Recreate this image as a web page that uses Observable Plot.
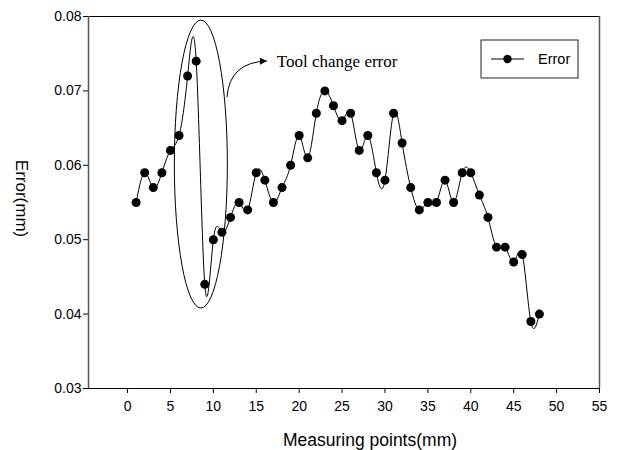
<!DOCTYPE html>
<html>
<head>
<meta charset="utf-8">
<script src="https://cdn.jsdelivr.net/npm/d3@7"></script>
<script src="https://cdn.jsdelivr.net/npm/@observablehq/plot@0.6"></script>
<style>
  html, body { margin: 0; padding: 0; background: white; }
</style>
</head>
<body>
<div id="chart"></div>
<script>
// ---- Data ----
const points = [1,2,3,4,5,6,7,8,9,10,11,12,13,14,15,16,17,18,19,20,21,22,23,24,25,26,27,28,29,30,31,32,33,34,35,36,37,38,39,40,41,42,43,44,45,46,47,48];
const errors = [0.055,0.059,0.057,0.059,0.062,0.064,0.072,0.074,0.044,0.050,0.051,0.053,0.055,0.054,0.059,0.058,0.055,0.057,0.060,0.064,0.061,0.067,0.070,0.068,0.066,0.067,0.062,0.064,0.059,0.058,0.067,0.063,0.057,0.054,0.055,0.055,0.058,0.055,0.059,0.059,0.056,0.053,0.049,0.049,0.047,0.048,0.039,0.040];
const xTicks = [0,5,10,15,20,25,30,35,40,45,50,55];
const yTicks = [0.03,0.04,0.05,0.06,0.07,0.08];
const seriesName = "Error";
const annotationText = "Tool change error";

const data = points.map((p, i) => ({x: p, y: errors[i]}));

const xDomain = [-4.55, 55];
const yDomain = [0.03, 0.08];

// annotation geometry (data units)
const ellipse = {cx: 8.6, cy: 0.0601, rx: 3.09, ry: 0.01935};
const arrowPath = {x1: 11.65, y1: 0.0691, cx: 11.95, cy: 0.0738, x2: 16.3, y2: 0.07395};
const labelPos = {x: 17.4, y: 0.0739};

const sans = "'Liberation Sans', Arial, Helvetica, sans-serif";
const serif = "'Liberation Serif', 'Times New Roman', serif";

const plot = Plot.plot({
  width: 622,
  height: 450,
  marginTop: 16,
  marginLeft: 88,
  marginRight: 23,
  marginBottom: 62,
  style: {fontFamily: sans, fontSize: "14px", background: "white", color: "black", overflow: "visible"},
  x: {domain: xDomain, label: null},
  y: {domain: yDomain, label: null},
  marks: [
    Plot.axisX({ticks: xTicks, tickSize: 5, tickPadding: 8, fontSize: 14, label: null}),
    Plot.axisY({ticks: yTicks, tickSize: 5, tickPadding: 2, fontSize: 14, tickFormat: d3.format(".2f"), label: null}),
    Plot.ruleY([yDomain[0], yDomain[1]], {stroke: "black", strokeWidth: 1}),
    Plot.ruleX([xDomain[0], xDomain[1]], {stroke: "#555", strokeWidth: 1.5}),
    Plot.line(data, {x: "x", y: "y", curve: "natural", stroke: "black", strokeWidth: 1}),
    Plot.dot(data, {x: "x", y: "y", r: 4.5, fill: "black", stroke: "none"}),
    Plot.text([annotationText], {x: labelPos.x, y: labelPos.y, text: d => d, textAnchor: "start", lineAnchor: "middle", fontFamily: serif, fontSize: 17, fill: "black"}),
    Plot.text(["Error(mm)"], {frameAnchor: "left", text: d => d, rotate: 90, dx: -67, dy: -4, fontSize: 17, fill: "black", textAnchor: "middle", lineAnchor: "middle"}),
    Plot.text(["Measuring points(mm)"], {frameAnchor: "bottom", text: d => d, dx: 26, dy: 52, fontSize: 17.5, fill: "black", textAnchor: "middle", lineAnchor: "middle"})
  ]
});

document.getElementById("chart").appendChild(plot);

// ---- annotation: ellipse + curved arrow ----
const xs = plot.scale("x"), ys = plot.scale("y");
const X = v => xs.apply(v), Y = v => ys.apply(v);
const svg = d3.select(plot);

const defs = svg.append("defs");
defs.append("marker")
  .attr("id", "arrowhead")
  .attr("viewBox", "0 0 10 10")
  .attr("refX", 10).attr("refY", 5)
  .attr("markerUnits", "userSpaceOnUse")
  .attr("markerWidth", 8).attr("markerHeight", 7)
  .attr("orient", "auto")
  .append("path").attr("d", "M0,0 L10,5 L0,10 Z").attr("fill", "black");

const ecx = X(ellipse.cx), ecy = Y(ellipse.cy);
svg.append("ellipse")
  .attr("cx", ecx).attr("cy", ecy)
  .attr("rx", Math.abs(X(ellipse.cx + ellipse.rx) - ecx))
  .attr("ry", Math.abs(Y(ellipse.cy + ellipse.ry) - ecy))
  .attr("fill", "none").attr("stroke", "black").attr("stroke-width", 1);

svg.append("path")
  .attr("d", `M${X(arrowPath.x1)},${Y(arrowPath.y1)} Q${X(arrowPath.cx)},${Y(arrowPath.cy)} ${X(arrowPath.x2)},${Y(arrowPath.y2)}`)
  .attr("fill", "none").attr("stroke", "black").attr("stroke-width", 1)
  .attr("marker-end", "url(#arrowhead)");

// ---- legend ----
const lg = svg.append("g").attr("transform", "translate(481,40)");
lg.append("rect").attr("width", 97).attr("height", 38).attr("fill", "white").attr("stroke", "#222").attr("stroke-width", 1);
lg.append("line").attr("x1", 10).attr("x2", 43).attr("y1", 19).attr("y2", 19).attr("stroke", "black").attr("stroke-width", 1);
lg.append("circle").attr("cx", 26.5).attr("cy", 19).attr("r", 4.2).attr("fill", "black");
lg.append("text").attr("x", 57).attr("y", 19).attr("dy", "0.35em")
  .attr("text-anchor", "start")
  .attr("font-family", sans).attr("font-size", 14.5).attr("fill", "black").text(seriesName);
</script>
</body>
</html>
